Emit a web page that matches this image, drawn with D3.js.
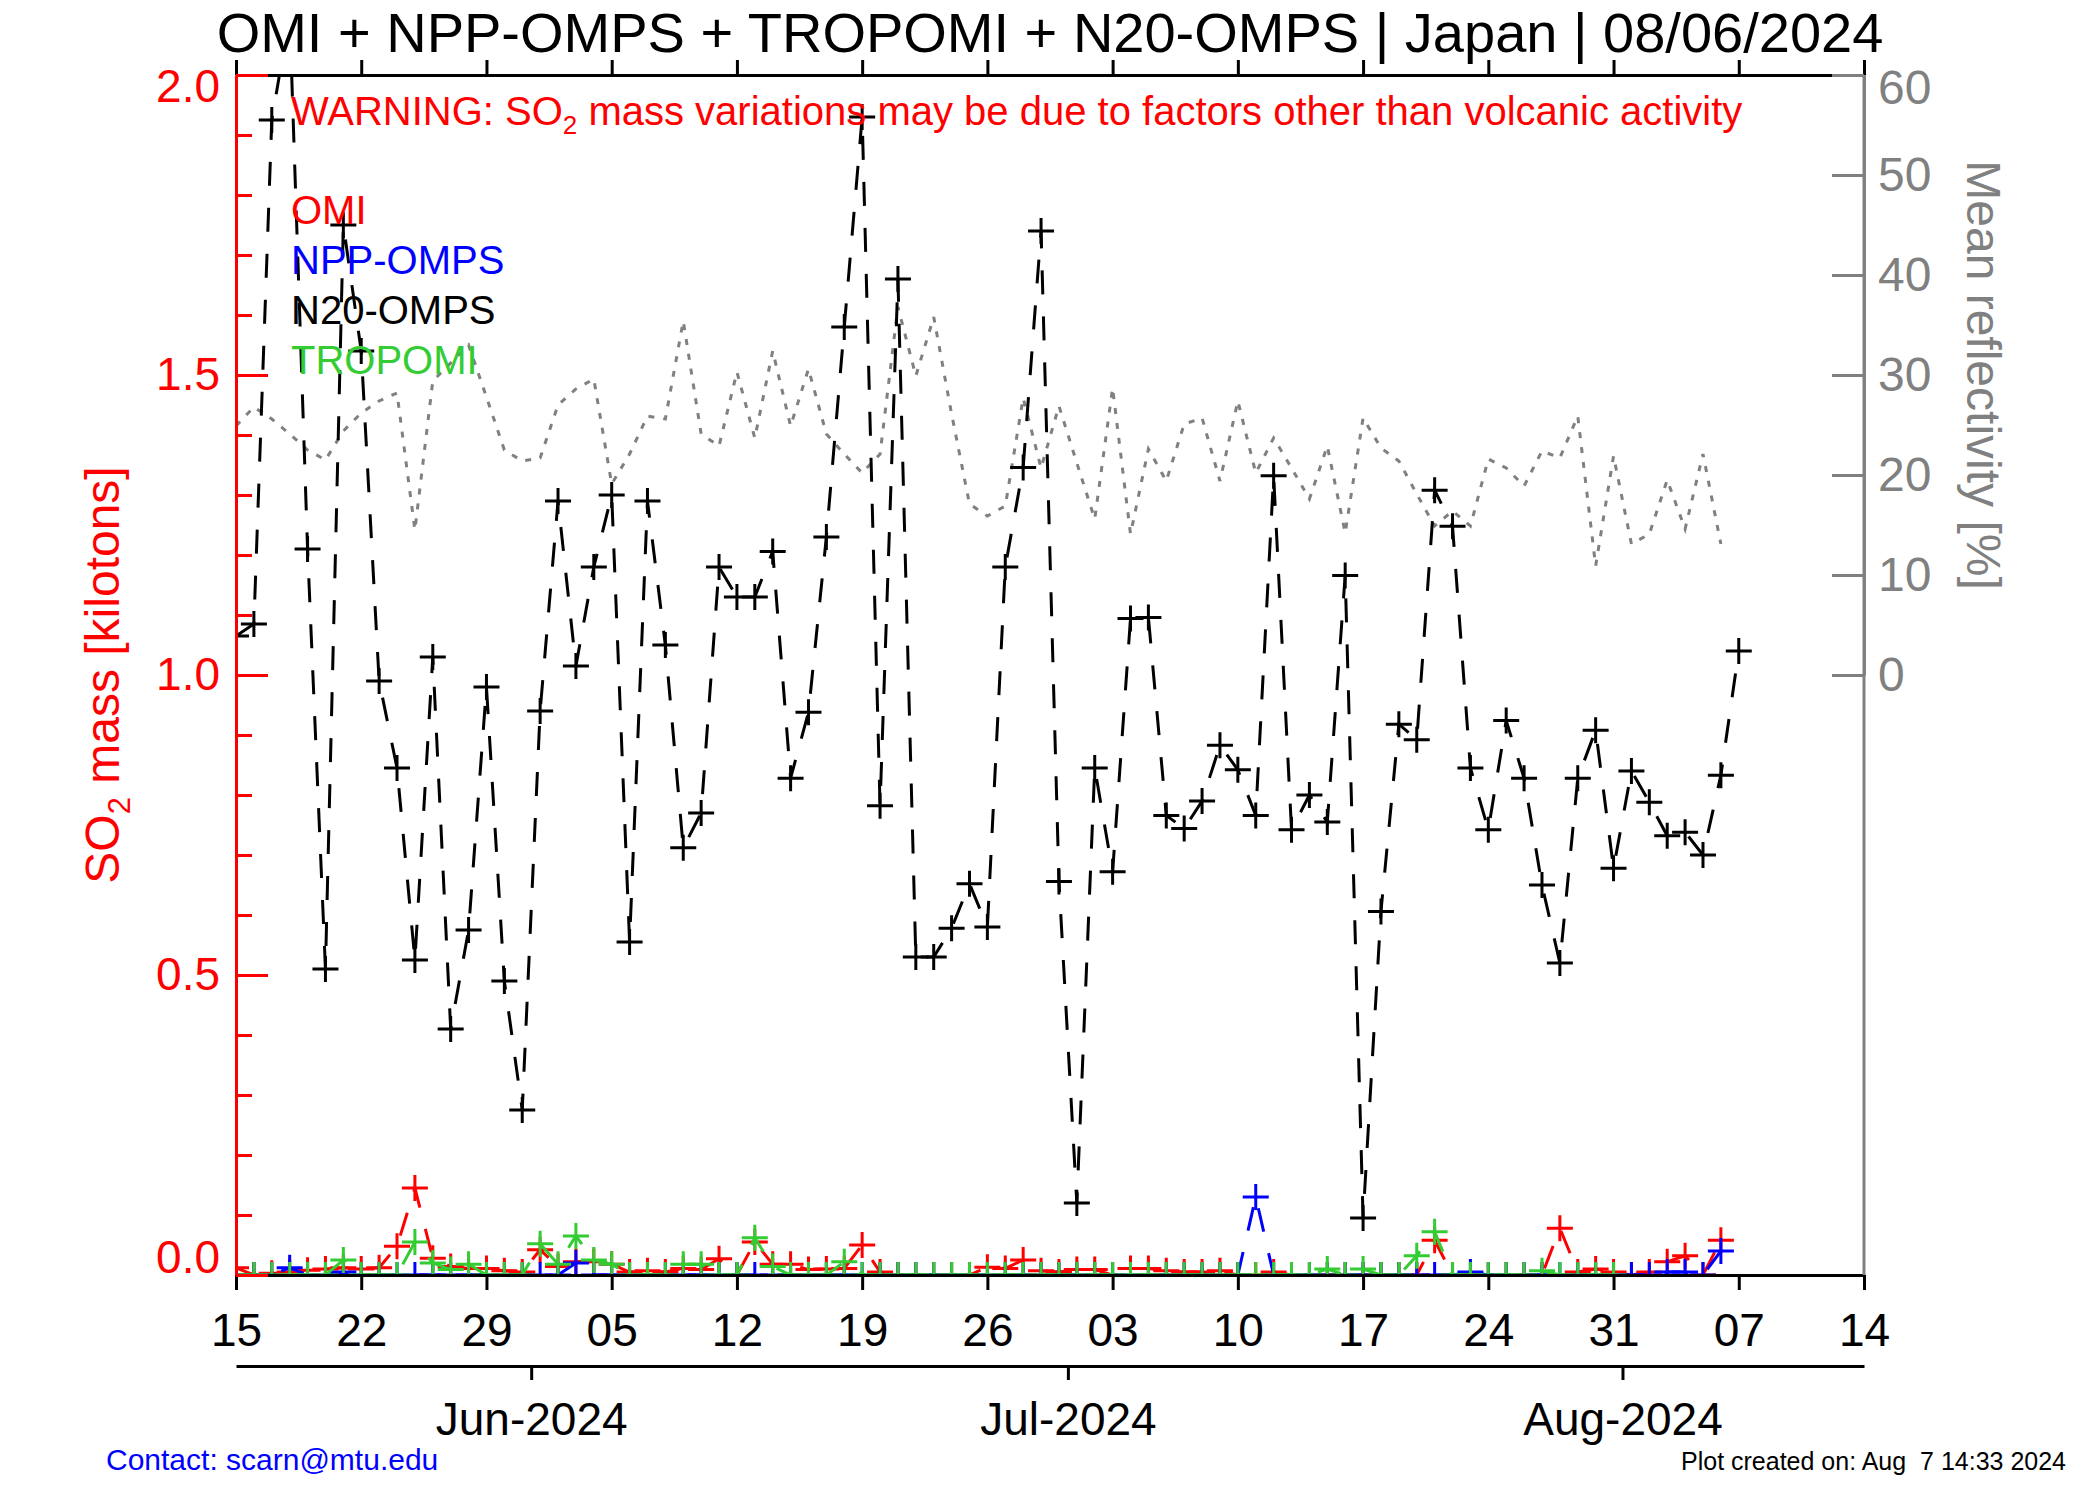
<!DOCTYPE html>
<html>
<head>
<meta charset="utf-8">
<script src="https://cdn.jsdelivr.net/npm/d3@7"></script>
<style>
  body { margin: 0; background: #fff; }
  text { font-family: "Liberation Sans", Arial, Helvetica, sans-serif; }
</style>
</head>
<body>
<div id="chart"></div>
<script>
// daily values, first day = 15 May 2024
var startDay = new Date(Date.UTC(2024, 4, 15));
var endDay = new Date(Date.UTC(2024, 7, 14));

// N20-OMPS SO2 mass [kt], 15 May .. 07 Aug
var n20Mass = [1.065, 1.085, 1.925, 2.10, 1.21, 0.51, 1.75, 1.54, 0.99, 0.845,
  0.525, 1.03, 0.41, 0.575, 0.98, 0.49, 0.275, 0.94, 1.29, 1.015,
  1.18, 1.30, 0.555, 1.29, 1.05, 0.712, 0.77, 1.18, 1.13, 1.13,
  1.206, 0.828, 0.938, 1.23, 1.58, 1.93, 0.782, 1.66, 0.53, 0.53,
  0.578, 0.652, 0.58, 1.18, 1.346, 1.74, 0.656, 0.12, 0.845, 0.672,
  1.094, 1.096, 0.766, 0.744, 0.79, 0.883, 0.842, 0.766, 1.332, 0.742,
  0.80, 0.755, 1.166, 0.095, 0.606, 0.918, 0.892, 1.308, 1.248, 0.845,
  0.742, 0.924, 0.828, 0.65, 0.52, 0.828, 0.908, 0.678, 0.84, 0.788,
  0.732, 0.738, 0.70, 0.833, 1.04];

// OMI SO2 mass [kt], 15 May .. 06 Aug
var omiMass = [0.012, 0.0, 0.003, 0.005, 0.008, 0.01, 0.012, 0.01, 0.012, 0.048,
  0.145, 0.028, 0.014, 0.011, 0.011, 0.007, 0.005, 0.042, 0.014, 0.022,
  0.022, 0.018, 0.005, 0.007, 0.005, 0.011, 0.009, 0.027, 0.0, 0.055,
  0.018, 0.018, 0.009, 0.01, 0.011, 0.05, 0.005, 0.0, 0.0, 0.0,
  0.0, 0.0, 0.013, 0.011, 0.025, 0.007, 0.005, 0.009, 0.009, 0.0,
  0.011, 0.011, 0.007, 0.005, 0.005, 0.007, 0.0, 0.0, 0.005, 0.0,
  0.0, 0.0, 0.0, 0.0, 0.0, 0.0, 0.0, 0.058, 0.0, 0.0,
  0.0, 0.0, 0.0, 0.0, 0.078, 0.005, 0.01, 0.005, 0.0, 0.005,
  0.022, 0.032, 0.0, 0.058];

// NPP-OMPS SO2 mass [kt], 15 May .. 06 Aug
var nppMass = [0, 0, 0, 0.012, 0, 0, 0.005, 0, 0, 0,
  0, 0, 0, 0, 0, 0, 0, 0, 0, 0.02,
  0, 0, 0, 0, 0, 0, 0, 0, 0, 0,
  0, 0, 0, 0, 0, 0, 0, 0, 0, 0,
  0, 0, 0, 0, 0, 0, 0, 0, 0, 0,
  0, 0, 0, 0, 0, 0, 0, 0.13, 0, 0,
  0, 0, 0, 0, 0, 0, 0, 0, 0, 0.005,
  0, 0, 0, 0, 0, 0, 0, 0, 0, 0,
  0.005, 0.005, 0, 0.04];

// TROPOMI SO2 mass [kt], 15 May .. 31 Jul
var tropomiMass = [0, 0, 0, 0, 0, 0, 0.025, 0, 0, 0,
  0.055, 0.02, 0.009, 0.018, 0, 0, 0, 0.052, 0.018, 0.065,
  0.025, 0.018, 0, 0, 0, 0.018, 0.018, 0, 0, 0.062,
  0.014, 0, 0, 0, 0.022, 0, 0, 0, 0, 0,
  0, 0, 0, 0, 0, 0, 0, 0, 0, 0,
  0, 0, 0, 0, 0, 0, 0, 0, 0, 0,
  0, 0.01, 0, 0.01, 0, 0, 0.032, 0.072, 0, 0,
  0, 0, 0, 0.007, 0, 0, 0, 0];

// mean reflectivity [%], 15 May .. 06 Aug
var meanReflectivity = [24.9, 26.8, 25.6, 24.1, 22.5, 21.5, 24.4, 26.2, 27.4, 28.2,
  14.5, 29.4, 31.2, 33.0, 27.8, 22.5, 21.4, 21.7, 27.0, 28.6,
  29.6, 19.1, 22.1, 25.9, 25.6, 35.4, 24.1, 22.9, 30.3, 23.7,
  32.4, 24.9, 30.6, 24.1, 22.1, 20.2, 22.1, 36.8, 29.9, 35.8,
  26.1, 17.1, 15.9, 16.9, 27.7, 20.7, 26.9, 21.2, 15.6, 28.7,
  14.1, 22.6, 19.4, 25.1, 25.7, 19.4, 27.4, 20.2, 23.7, 20.7,
  17.6, 22.9, 14.2, 25.7, 22.7, 21.4, 18.1, 14.9, 16.4, 14.9,
  21.6, 20.7, 18.9, 22.4, 21.7, 25.9, 10.9, 21.9, 13.1, 14.1,
  19.5, 14.6, 22.1, 13.1];

var massTicks = [0, 0.5, 1.0, 1.5, 2.0];
var reflTicks = [0, 10, 20, 30, 40, 50, 60];
var legendNames = ["OMI", "NPP-OMPS", "N20-OMPS", "TROPOMI"];
var legendColors = ["#ff0000", "#0000ff", "#000000", "#33cc33"];

var margin = {top: 75, right: 236, bottom: 225, left: 236},
    width = 2100 - margin.left - margin.right,
    height = 1500 - margin.top - margin.bottom;

var svg = d3.select("#chart")
  .append("svg")
  .attr("width", 2100)
  .attr("height", 1500);

var g = svg.append("g")
  .attr("transform", "translate(" + margin.left + "," + margin.top + ")");

var x = d3.scaleUtc().domain([startDay, endDay]).range([0, width]);
var y = d3.scaleLinear().domain([0, 2]).range([height, 0]);
var yR = d3.scaleLinear().domain([0, 60]).range([height / 2, 0]);

svg.append("defs").append("clipPath").attr("id", "clip")
  .append("rect").attr("width", width).attr("height", height);

var plotArea = g.append("g").attr("clip-path", "url(#clip)");

function dayOf(i) { return d3.utcDay.offset(startDay, i); }

// reflectivity, dotted grey
plotArea.append("path")
  .datum(meanReflectivity)
  .attr("fill", "none")
  .attr("stroke", "#808080")
  .attr("stroke-width", 3)
  .attr("stroke-dasharray", "6,9")
  .attr("d", d3.line().x(function(d, i) { return x(dayOf(i)); }).y(function(d) { return yR(d); }));

function drawSeries(values, color) {
  var line = d3.line()
    .x(function(d, i) { return x(dayOf(i)); })
    .y(function(d) { return y(d); });
  plotArea.append("path")
    .datum(values)
    .attr("fill", "none")
    .attr("stroke", color)
    .attr("stroke-width", 3)
    .attr("stroke-dasharray", "24,22")
    .attr("d", line);
  plotArea.append("g").selectAll("path")
    .data(values)
    .enter()
    .append("path")
    .attr("transform", function(d, i) { return "translate(" + x(dayOf(i)) + "," + y(d) + ")"; })
    .attr("d", "M-13,0H13M0,-13V13")
    .attr("stroke", color)
    .attr("stroke-width", 3);
}

drawSeries(omiMass, legendColors[0]);
drawSeries(nppMass, legendColors[1]);
drawSeries(n20Mass, legendColors[2]);
drawSeries(tropomiMass, legendColors[3]);

function styleAxis(sel, color, size) {
  sel.attr("font-family", null).attr("font-size", null);
  sel.selectAll("path, line").attr("stroke", color).attr("stroke-width", 3);
  sel.selectAll("text").attr("fill", color).attr("font-size", size);
}

var weekTicks = d3.utcDay.range(startDay, d3.utcDay.offset(endDay, 1), 7);

// top and bottom day axes
g.append("g")
  .call(d3.axisTop(x).tickValues(weekTicks).tickSize(15).tickSizeOuter(0).tickFormat(""))
  .call(styleAxis, "#000", 46);

g.append("g")
  .attr("transform", "translate(0," + height + ")")
  .call(d3.axisBottom(x).tickValues(weekTicks).tickSize(15).tickSizeOuter(0)
    .tickPadding(23).tickFormat(d3.utcFormat("%d")))
  .call(styleAxis, "#000", 46);

// month axis below
var monthTicks = d3.utcMonth.range(d3.utcDay.offset(startDay, 1), endDay)
  .map(function(d) { return d3.utcHour.offset(d, -12); });
var monthFmt = d3.utcFormat("%b-%Y");
g.append("g")
  .attr("transform", "translate(0," + (height + 91) + ")")
  .call(d3.axisBottom(x).tickValues(monthTicks).tickSize(14).tickSizeOuter(0)
    .tickPadding(22).tickFormat(function(d) { return monthFmt(d3.utcHour.offset(d, 12)); }))
  .call(styleAxis, "#000", 46);

// left mass axis, minor then major ticks
g.append("g")
  .call(d3.axisLeft(y).tickValues(d3.range(0, 21).map(function(i) { return i / 10; }))
    .tickSize(-16).tickSizeOuter(0).tickFormat(""))
  .call(styleAxis, "#ff0000", 46);

var leftAxis = g.append("g")
  .call(d3.axisLeft(y).tickValues(massTicks).tickSize(-32).tickSizeOuter(0)
    .tickPadding(16).tickFormat(d3.format(".1f")))
  .call(styleAxis, "#ff0000", 46);
leftAxis.selectAll(".tick text")
  .attr("y", function(d) { return d === 2 ? 12 : (d === 0 ? -17 : 0); });

// right reflectivity axis
g.append("line")
  .attr("x1", width).attr("x2", width)
  .attr("y1", 0).attr("y2", height)
  .attr("stroke", "#808080").attr("stroke-width", 3);

var rightAxis = g.append("g")
  .attr("transform", "translate(" + width + ",0)")
  .call(d3.axisRight(yR).tickValues(reflTicks).tickSize(-32).tickSizeOuter(0).tickPadding(14))
  .call(styleAxis, "#808080", 48);
rightAxis.selectAll(".tick text")
  .attr("y", function(d) { return d === 60 ? 13 : 0; });

// axis titles
var leftTitle = svg.append("text")
  .attr("transform", "translate(102," + (margin.top + height / 2) + ") rotate(-90)")
  .attr("text-anchor", "middle")
  .attr("dy", "0.35em")
  .attr("fill", "#ff0000")
  .attr("font-size", 48);
leftTitle.append("tspan").text("SO");
leftTitle.append("tspan").attr("font-size", 31).attr("dy", 11).text("2");
leftTitle.append("tspan").attr("dy", -11).text(" mass [kilotons]");

svg.append("text")
  .attr("transform", "translate(1984," + (margin.top + height / 4) + ") rotate(90)")
  .attr("text-anchor", "middle")
  .attr("dy", "0.35em")
  .attr("fill", "#808080")
  .attr("font-size", 48)
  .text("Mean reflectivity [%]");

// title
svg.append("text")
  .attr("x", margin.left + width / 2)
  .attr("y", 52)
  .attr("text-anchor", "middle")
  .attr("font-size", 56)
  .attr("fill", "#000")
  .text("OMI + NPP-OMPS + TROPOMI + N20-OMPS | Japan | 08/06/2024");

// warning
var warn = svg.append("text")
  .attr("x", 291).attr("y", 125)
  .attr("fill", "#ff0000")
  .attr("font-size", 40);
warn.append("tspan").text("WARNING: SO");
warn.append("tspan").attr("font-size", 26).attr("dy", 9).text("2");
warn.append("tspan").attr("dy", -9).text(" mass variations may be due to factors other than volcanic activity");

// legend
svg.append("g").selectAll("text")
  .data(legendNames)
  .enter()
  .append("text")
  .attr("x", 291)
  .attr("y", function(d, i) { return 224 + i * 50; })
  .attr("font-size", 40)
  .attr("fill", function(d, i) { return legendColors[i]; })
  .text(function(d) { return d; });

// footer
svg.append("text")
  .attr("x", 106).attr("y", 1470)
  .attr("font-size", 30)
  .attr("fill", "#0000ff")
  .text("Contact: scarn@mtu.edu");

svg.append("text")
  .attr("x", 1681).attr("y", 1470)
  .attr("font-size", 25)
  .attr("fill", "#000")
  .style("white-space", "pre")
  .text("Plot created on: Aug  7 14:33 2024");
</script>
</body>
</html>
